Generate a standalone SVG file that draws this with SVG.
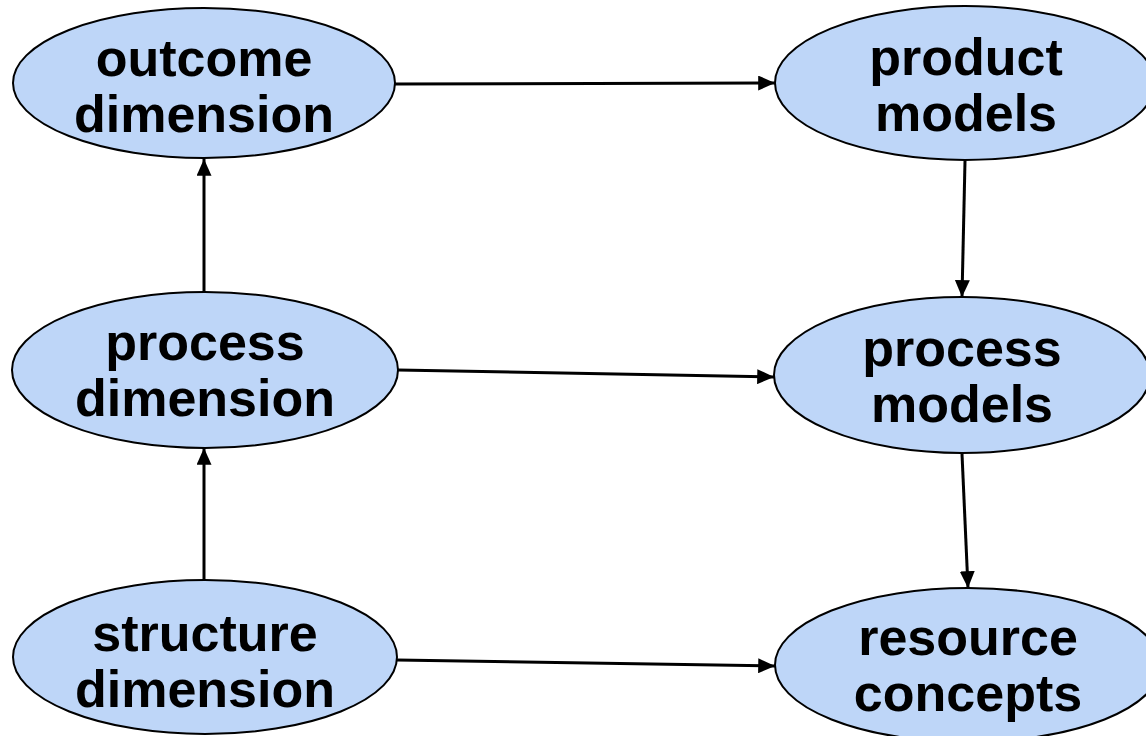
<svg xmlns="http://www.w3.org/2000/svg" width="1146" height="736" viewBox="0 0 1146 736">
  <style>
    .node { fill: #bed6f8; stroke: #000; stroke-width: 2; }
    .label { font-family: "Liberation Sans", Arial, sans-serif; font-weight: bold; font-size: 52px; text-anchor: middle; fill: #000; }
    .edge { stroke: #000; stroke-width: 3; fill: none; marker-end: url(#arrow); }
  </style>
  <defs>
    <marker id="arrow" markerWidth="5.6" markerHeight="5" refX="5.6" refY="2.5" orient="auto" markerUnits="strokeWidth">
      <path d="M0,0 L5.6,2.5 L0,5 Z" fill="#000"/>
    </marker>
  </defs>

  <g id="connectors">
    <line class="edge" x1="395" y1="84" x2="775" y2="83"/>
    <line class="edge" x1="965" y1="161" x2="962" y2="297"/>
    <line class="edge" x1="398" y1="370" x2="774" y2="377"/>
    <line class="edge" x1="204" y1="292" x2="204" y2="159"/>
    <line class="edge" x1="204" y1="580" x2="204" y2="448"/>
    <line class="edge" x1="962" y1="454" x2="968" y2="588"/>
    <line class="edge" x1="397" y1="660" x2="775" y2="666"/>
  </g>

  <g id="outcome-dimension">
    <ellipse class="node" cx="204" cy="83" rx="191" ry="75"/>
    <text class="label" x="204" y="76">outcome</text>
    <text class="label" x="204" y="132">dimension</text>
  </g>

  <g id="product-models">
    <ellipse class="node" cx="965" cy="83" rx="190" ry="77"/>
    <text class="label" x="966" y="75">product</text>
    <text class="label" x="966" y="131">models</text>
  </g>

  <g id="process-dimension">
    <ellipse class="node" cx="205" cy="370" rx="193" ry="78"/>
    <text class="label" x="205" y="360">process</text>
    <text class="label" x="205" y="416">dimension</text>
  </g>

  <g id="process-models">
    <ellipse class="node" cx="962" cy="375" rx="188" ry="78"/>
    <text class="label" x="962" y="366">process</text>
    <text class="label" x="962" y="422">models</text>
  </g>

  <g id="structure-dimension">
    <ellipse class="node" cx="205" cy="657" rx="192" ry="77"/>
    <text class="label" x="205" y="651">structure</text>
    <text class="label" x="205" y="707">dimension</text>
  </g>

  <g id="resource-concepts">
    <ellipse class="node" cx="968" cy="665" rx="193" ry="77"/>
    <text class="label" x="968" y="655">resource</text>
    <text class="label" x="968" y="711">concepts</text>
  </g>
</svg>
